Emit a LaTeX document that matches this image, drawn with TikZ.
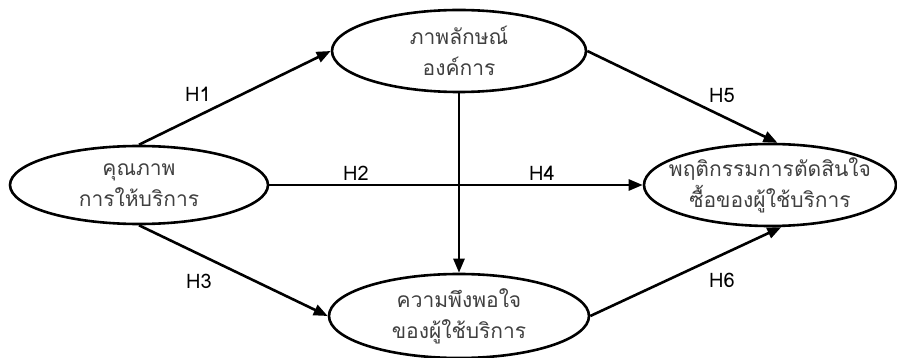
\documentclass[tikz,border=0pt]{standalone}
\usepackage{fontspec}
\newfontfamily\thaifont[Script=Thai]{Loma}
\usetikzlibrary{shapes.geometric,arrows.meta}
\begin{document}
\begin{tikzpicture}[x=1pt,y=-1pt,
  oval/.style={ellipse,draw,line width=2.6pt,inner sep=0pt},
  otext/.style={align=center,inner sep=0pt,
    font=\thaifont\fontsize{21}{31}\selectfont,text=black!75},
  link/.style={line width=2.6pt,-{Triangle[length=14pt,width=11pt]}},
  hlab/.style={font=\thaifont\fontsize{20}{22}\selectfont}]
\useasboundingbox (0,0) rectangle (897,358);
\node[oval,minimum width=258,minimum height=78] (L) at (139,185) {};
\node[otext] (Lt) at (L.center) {คุณภาพ\\การให้บริการ};
\node[oval,minimum width=254,minimum height=82] (T) at (459,51) {};
\node[otext] (Tt) at (T.center) {ภาพลักษณ์\\องค์การ};
\node[oval,minimum width=260,minimum height=84] (B) at (459,316) {};
\node[otext] (Bt) at (B.center) {ความพึงพอใจ\\ของผู้ใช้บริการ};
\node[oval,minimum width=252,minimum height=82] (R) at (770,185) {};
\node[otext] (Rt) at (R.center) {พฤติกรรมการตัดสินใจ\\ซื้อของผู้ใช้บริการ};
\draw[link] (L.north) -- (T.west);
\draw[link] (L.south) -- (B.west);
\draw[link] (L.east) -- (R.west);
\draw[link] (T.south) -- (B.north);
\draw[link] (T.east) -- (R.80);
\draw[link] (B.east) -- (R.-75);
\node[hlab] (h1) at (198,94) {H1};
\node[hlab] (h2) at (356,173) {H2};
\node[hlab] (h3) at (199,281) {H3};
\node[hlab] (h4) at (542,173) {H4};
\node[hlab] (h5) at (722,95) {H5};
\node[hlab] (h6) at (722,280) {H6};
\end{tikzpicture}
\end{document}
